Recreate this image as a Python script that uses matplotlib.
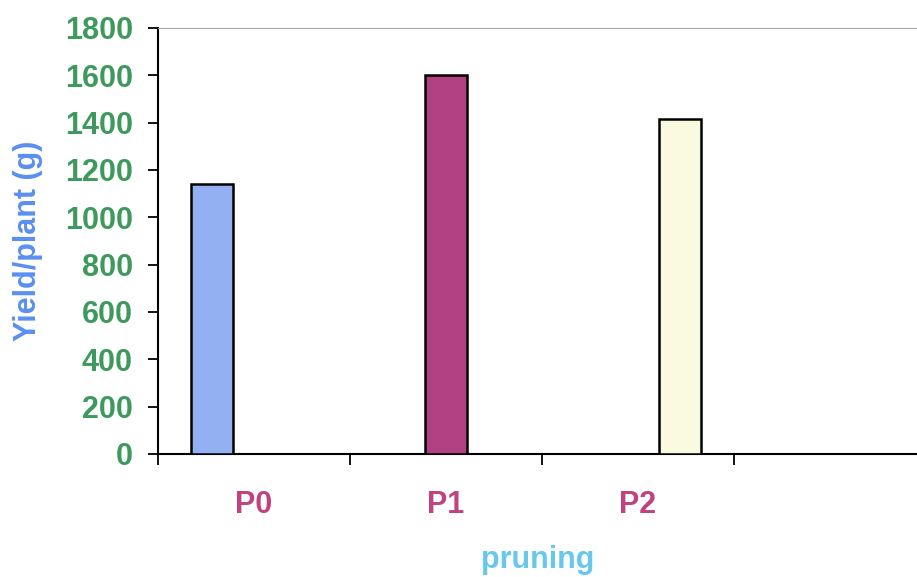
import matplotlib.pyplot as plt
import numpy as np

# yield per plant for each pruning level
categories = ['P0', 'P1', 'P2']
yield_g = [1140, 1600, 1415]
bar_colors = ['#93b1f2', '#b0407f', '#fafade']

plt.rcParams['font.family'] = ['Liberation Sans', 'DejaVu Sans']

fig = plt.figure(figsize=(9.17, 5.77), dpi=100)
ax = fig.add_axes([0.1723, 0.2132, 0.8277, 0.7383])

# one series per category, drawn in its own slot of the cluster
w = 0.22
x = np.arange(len(categories))
for i, (v, c) in enumerate(zip(yield_g, bar_colors)):
    ax.bar(i + 0.5 + (i - 1) * w, v, width=w, color=c,
           edgecolor='black', linewidth=1.8, zorder=3)

ax.set_xlim(0, 3.953)
ax.set_ylim(0, 1800)
ax.set_yticks(np.arange(0, 1801, 200))
ax.set_xticks(np.arange(0, 4))
ax.set_xticklabels([])
ax.set_xticks(x + 0.5, minor=True)
ax.set_xticklabels(categories, minor=True)

ax.tick_params(axis='y', direction='out', length=7, width=1.3, pad=11,
               labelsize=22, labelcolor='#3d9a5c')
ax.tick_params(axis='x', which='major', direction='out', length=8, width=1.3)
ax.tick_params(axis='x', which='minor', length=0, pad=26,
               labelsize=22, labelcolor='#c0437f')
for lbl in ax.get_yticklabels() + ax.get_xticklabels(minor=True):
    lbl.set_fontweight('bold')

ax.spines['right'].set_visible(False)
ax.spines['top'].set_color('#a8a8a8')
ax.spines['left'].set_linewidth(1.5)
ax.spines['bottom'].set_linewidth(1.5)

ax.set_ylabel('Yield/plant (g)', fontsize=22, fontweight='bold',
              color='#5a8ff0', labelpad=16)
ax.set_xlabel('pruning', fontsize=22, fontweight='bold',
              color='#66c8ee', labelpad=18)

fig.savefig('out.png', dpi=100, facecolor='white')
